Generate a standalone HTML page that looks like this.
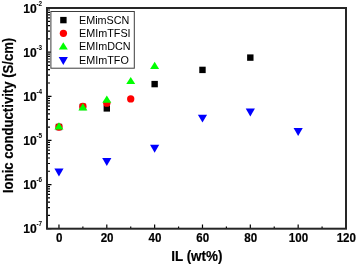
<!DOCTYPE html><html><head><meta charset="utf-8"><style>html,body{margin:0;padding:0;background:#fff;width:356px;height:264px;overflow:hidden}svg{display:block;will-change:transform}text{font-family:"Liberation Sans",sans-serif}text[font-weight=bold]{stroke:#000;stroke-width:0.2px}text.s{stroke:none}</style></head><body>
<svg width="356" height="264" viewBox="0 0 356 264">
<path d="M47,228.70h4.5 M47,215.41h3 M47,207.64h3 M47,202.13h3 M47,197.85h3 M47,194.35h3 M47,191.40h3 M47,188.84h3 M47,186.58h3 M47,184.56h4.5 M47,171.27h3 M47,163.50h3 M47,157.99h3 M47,153.71h3 M47,150.21h3 M47,147.26h3 M47,144.70h3 M47,142.44h3 M47,140.42h4.5 M47,127.13h3 M47,119.36h3 M47,113.85h3 M47,109.57h3 M47,106.07h3 M47,103.12h3 M47,100.56h3 M47,98.30h3 M47,96.28h4.5 M47,82.99h3 M47,75.22h3 M47,69.71h3 M47,65.43h3 M47,61.93h3 M47,58.98h3 M47,56.42h3 M47,54.16h3 M47,52.14h4.5 M47,38.85h3 M47,31.08h3 M47,25.57h3 M47,21.29h3 M47,17.79h3 M47,14.84h3 M47,12.28h3 M47,10.02h3 M47,8.00h4.5 M58.96,228.7v-4.2 M106.80,228.7v-4.2 M154.64,228.7v-4.2 M202.48,228.7v-4.2 M250.32,228.7v-4.2 M298.16,228.7v-4.2 M346.00,228.7v-4.2 M82.88,228.7v-2.2 M130.72,228.7v-2.2 M178.56,228.7v-2.2 M226.40,228.7v-2.2 M274.24,228.7v-2.2 M322.08,228.7v-2.2" stroke="#000" stroke-width="1.2" fill="none"/>
<rect x="47" y="8" width="299" height="220.7" fill="none" stroke="#262626" stroke-width="2"/>
<text transform="translate(36.8,12.60) scale(0.93,1)" font-size="13.0" font-weight="bold" text-anchor="end">10</text>
<text class="s" x="36.4" y="5.70" font-size="6.4" font-weight="bold">-2</text>
<text transform="translate(36.8,56.74) scale(0.93,1)" font-size="13.0" font-weight="bold" text-anchor="end">10</text>
<text class="s" x="36.4" y="49.84" font-size="6.4" font-weight="bold">-3</text>
<text transform="translate(36.8,100.88) scale(0.93,1)" font-size="13.0" font-weight="bold" text-anchor="end">10</text>
<text class="s" x="36.4" y="93.98" font-size="6.4" font-weight="bold">-4</text>
<text transform="translate(36.8,145.02) scale(0.93,1)" font-size="13.0" font-weight="bold" text-anchor="end">10</text>
<text class="s" x="36.4" y="138.12" font-size="6.4" font-weight="bold">-5</text>
<text transform="translate(36.8,189.16) scale(0.93,1)" font-size="13.0" font-weight="bold" text-anchor="end">10</text>
<text class="s" x="36.4" y="182.26" font-size="6.4" font-weight="bold">-6</text>
<text transform="translate(36.8,233.30) scale(0.93,1)" font-size="13.0" font-weight="bold" text-anchor="end">10</text>
<text class="s" x="36.4" y="226.40" font-size="6.4" font-weight="bold">-7</text>
<text transform="translate(59.26,241.5) scale(0.92,1)" font-size="12.6" font-weight="bold" text-anchor="middle">0</text>
<text transform="translate(107.10,241.5) scale(0.92,1)" font-size="12.6" font-weight="bold" text-anchor="middle">20</text>
<text transform="translate(154.94,241.5) scale(0.92,1)" font-size="12.6" font-weight="bold" text-anchor="middle">40</text>
<text transform="translate(202.78,241.5) scale(0.92,1)" font-size="12.6" font-weight="bold" text-anchor="middle">60</text>
<text transform="translate(250.62,241.5) scale(0.92,1)" font-size="12.6" font-weight="bold" text-anchor="middle">80</text>
<text transform="translate(298.46,241.5) scale(0.92,1)" font-size="12.6" font-weight="bold" text-anchor="middle">100</text>
<text transform="translate(346.30,241.5) scale(0.92,1)" font-size="12.6" font-weight="bold" text-anchor="middle">120</text>
<text transform="translate(196.8,261.3) scale(0.945,1)" x="0" y="0" font-size="14.2" font-weight="bold" text-anchor="middle">IL (wt%)</text>
<text transform="translate(12.6,115.4) rotate(-90) scale(0.918,1)" x="0" y="0" font-size="14.3" font-weight="bold" text-anchor="middle">Ionic conductivity (S/cm)</text>
<rect x="50.9" y="11.5" width="83.4" height="56.7" fill="#fff" stroke="#3c3c3c" stroke-width="1"/>
<rect x="60.20" y="16.90" width="6.4" height="6.4" fill="#000"/>
<circle cx="63.40" cy="33.30" r="3.65" fill="#f00"/>
<path d="M63.30,42.20L67.80,49.40L58.80,49.40Z" fill="#00ff00"/>
<path d="M58.70,57.00L67.90,57.00L63.30,64.90Z" fill="#00f"/>
<text x="79" y="24.0" font-size="10.8">EMimSCN</text>
<text x="79" y="36.8" font-size="10.8">EMImTFSI</text>
<text x="79" y="50.4" font-size="10.8">EMImDCN</text>
<text x="79" y="63.5" font-size="10.8">EMImTFO</text>
<rect x="55.76" y="123.80" width="6.4" height="6.4" fill="#000"/>
<rect x="79.68" y="103.70" width="6.4" height="6.4" fill="#000"/>
<rect x="103.60" y="105.20" width="6.4" height="6.4" fill="#000"/>
<rect x="151.44" y="80.90" width="6.4" height="6.4" fill="#000"/>
<rect x="199.28" y="66.70" width="6.4" height="6.4" fill="#000"/>
<rect x="247.12" y="54.40" width="6.4" height="6.4" fill="#000"/>
<circle cx="58.96" cy="127.00" r="3.65" fill="#f00"/>
<circle cx="82.88" cy="106.40" r="3.65" fill="#f00"/>
<circle cx="106.80" cy="103.20" r="3.65" fill="#f00"/>
<circle cx="130.72" cy="98.90" r="3.65" fill="#f00"/>
<path d="M58.96,122.20L63.46,129.40L54.46,129.40Z" fill="#00ff00"/>
<path d="M82.88,103.30L87.38,110.50L78.38,110.50Z" fill="#00ff00"/>
<path d="M106.80,95.60L111.30,102.80L102.30,102.80Z" fill="#00ff00"/>
<path d="M130.72,76.90L135.22,84.10L126.22,84.10Z" fill="#00ff00"/>
<path d="M154.64,61.80L159.14,69.00L150.14,69.00Z" fill="#00ff00"/>
<path d="M54.36,168.50L63.56,168.50L58.96,176.40Z" fill="#00f"/>
<path d="M102.20,158.00L111.40,158.00L106.80,165.90Z" fill="#00f"/>
<path d="M150.04,144.80L159.24,144.80L154.64,152.70Z" fill="#00f"/>
<path d="M197.88,114.70L207.08,114.70L202.48,122.60Z" fill="#00f"/>
<path d="M245.72,108.50L254.92,108.50L250.32,116.40Z" fill="#00f"/>
<path d="M293.56,128.10L302.76,128.10L298.16,136.00Z" fill="#00f"/>
</svg></body></html>
